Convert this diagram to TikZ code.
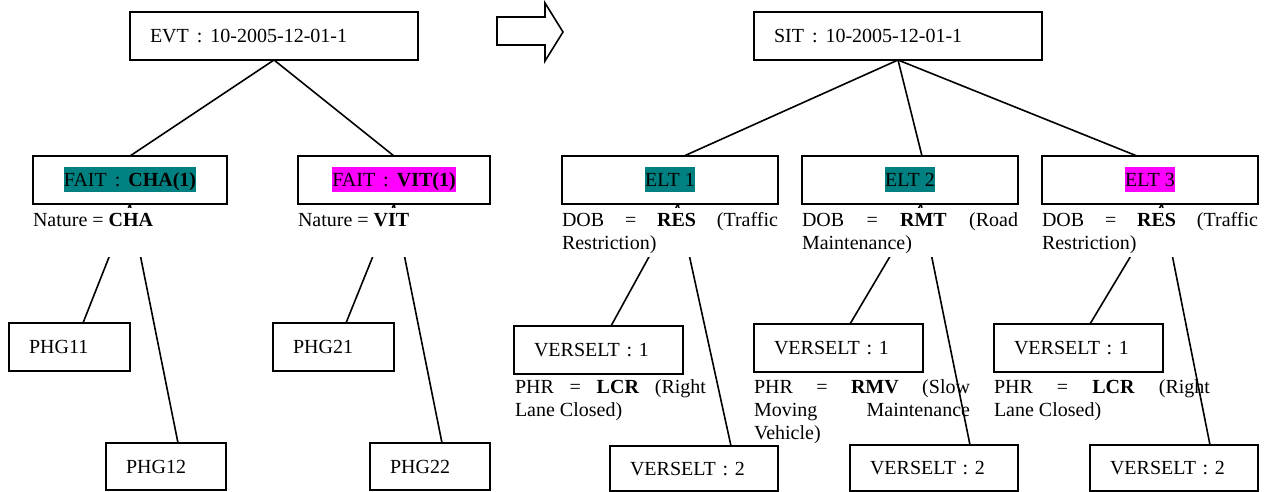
\documentclass[tikz,border=0pt]{standalone}
\usepackage{fontspec}
\setmainfont{Liberation Serif}
\usetikzlibrary{calc,backgrounds}
\definecolor{hlteal}{RGB}{0,128,128}
\definecolor{hlmag}{RGB}{255,0,255}
\newcommand{\hlt}[2]{{\setlength{\fboxsep}{0pt}\colorbox{#1}{\rule[-5pt]{0pt}{25pt}#2}}}
\newcommand{\jl}[2]{\hbox to #1{#2}}
\newcommand{\cln}{\hspace{8pt}:\hspace{8pt}}
\begin{document}
\begin{tikzpicture}[x=1pt, y=-1pt,
  font=\fontsize{20pt}{23pt}\selectfont,
  lbox/.style={draw, line width=1.7pt, anchor=north west, outer sep=0pt,
    inner xsep=20pt, inner ysep=0pt, minimum height=48pt, text width=#1,
    align=left, text height=13.2pt, text depth=0pt},
  cbox/.style={draw, line width=1.7pt, anchor=north west, outer sep=0pt,
    inner sep=0pt, minimum height=48pt, minimum width=#1,
    text height=13.2pt, text depth=0pt},
  note/.style={anchor=base west, inner sep=0pt, outer sep=0pt},
  wnote/.style={note, fill=white, text height=18pt, text depth=31pt},
  link/.style={line width=1.6pt}]
\useasboundingbox (0,0) rectangle (1274,492);

% top boxes
\node[lbox=248pt] (evt) at (130,12) {EVT\cln 10-2005-12-01-1};
\node[lbox=248pt] (sit) at (754,12) {SIT\cln 10-2005-12-01-1};

% transformation arrow
\draw[line width=1.6pt, line join=miter] (497,17) -- (545,17) -- (545,3) -- (563,32)
  -- (545,61) -- (545,45) -- (497,45) -- cycle;

% second level
\node[cbox=194pt] (cha) at (33,156) {\hlt{hlteal}{FAIT\cln\textbf{CHA(1)}}};
\node[cbox=192pt] (vit) at (298,156) {\hlt{hlmag}{FAIT\cln\textbf{VIT(1)}}};
\node[cbox=216pt] (elt1) at (562,156) {\hlt{hlteal}{ELT 1}};
\node[cbox=216pt] (elt2) at (802,156) {\hlt{hlteal}{ELT 2}};
\node[cbox=216pt] (elt3) at (1042,156) {\hlt{hlmag}{ELT 3}};

% leaves left
\node[lbox=81pt] (phg11) at (9,323) {PHG11};
\node[lbox=80pt, minimum height=47pt] (phg12) at (106,443) {PHG12};
\node[lbox=81pt] (phg21) at (273,323) {PHG21};
\node[lbox=80pt, minimum height=47pt] (phg22) at (370,443) {PHG22};

% leaves right
\node[lbox=129pt] (v11) at (514,326) {VERSELT : 1};
\node[lbox=128pt, minimum height=45pt] (v12) at (610,446) {VERSELT : 2};
\node[lbox=129pt] (v21) at (754,324) {VERSELT : 1};
\node[lbox=128pt, minimum height=46pt] (v22) at (850,445) {VERSELT : 2};
\node[lbox=129pt] (v31) at (994,324) {VERSELT : 1};
\node[lbox=128pt, minimum height=46pt] (v32) at (1090,445) {VERSELT : 2};

% notes under second level (white, hiding the start of the links)
\node[wnote] (natcha) at (33,226) {\parbox[t]{194pt}{Nature = \textbf{CHA}}};
\node[wnote] (natvit) at (298,226) {\parbox[t]{192pt}{Nature = \textbf{VIT}}};
\node[wnote] (dob1) at (562,226) {\parbox[t]{216pt}{\jl{216pt}{DOB\hfill=\hfill\textbf{RES}\hfill(Traffic}Restriction)}};
\node[wnote] (dob2) at (802,226) {\parbox[t]{216pt}{\jl{216pt}{DOB\hfill=\hfill\textbf{RMT}\hfill(Road}Maintenance)}};
\node[wnote] (dob3) at (1042,226) {\parbox[t]{216pt}{\jl{216pt}{DOB\hfill=\hfill\textbf{RES}\hfill(Traffic}Restriction)}};

% notes under VERSELT : 1
\node[note] (phr1) at (515,393) {\parbox[t]{191pt}{\jl{191pt}{PHR\hfill=\hfill\textbf{LCR}\hfill(Right}Lane Closed)}};
\node[note] (phr2) at (754,393) {\parbox[t]{216pt}{\jl{216pt}{PHR\hfill=\hfill\textbf{RMV}\hfill(Slow}\jl{216pt}{Moving\hfill Maintenance}Vehicle)}};
\node[note] (phr3) at (994,393) {\parbox[t]{216pt}{\jl{216pt}{PHR\hfill=\hfill\textbf{LCR}\hfill(Right}Lane Closed)}};

\begin{pgfonlayer}{background}
\draw[link] (evt.south) -- (cha.north);
\draw[link] (evt.south) -- (vit.north);
\draw[link] (cha.south) -- ([xshift=13.5pt]phg11.north);
\draw[link] (cha.south) -- ([xshift=12pt]phg12.north);
\draw[link] (vit.south) -- ([xshift=12.5pt]phg21.north);
\draw[link] (vit.south) -- ([xshift=12pt]phg22.north);
\draw[link] (sit.south) -- ([xshift=14pt]elt1.north);
\draw[link] (sit.south) -- ([xshift=12pt]elt2.north);
\draw[link] (sit.south) -- ([xshift=-13pt]elt3.north);
\draw[link] ([xshift=8pt]elt1.south) -- ([xshift=12.5pt]v11.north);
\draw[link] ([xshift=8pt]elt1.south) -- ([xshift=37pt]v12.north);
\draw[link] ([xshift=11pt]elt2.south) -- ([xshift=11.5pt]v21.north);
\draw[link] ([xshift=11pt]elt2.south) -- ([xshift=36pt]v22.north);
\draw[link] ([xshift=12pt]elt3.south) -- ([xshift=11.5pt]v31.north);
\draw[link] ([xshift=12pt]elt3.south) -- ([xshift=36pt]v32.north);
\end{pgfonlayer}
\end{tikzpicture}
\end{document}
